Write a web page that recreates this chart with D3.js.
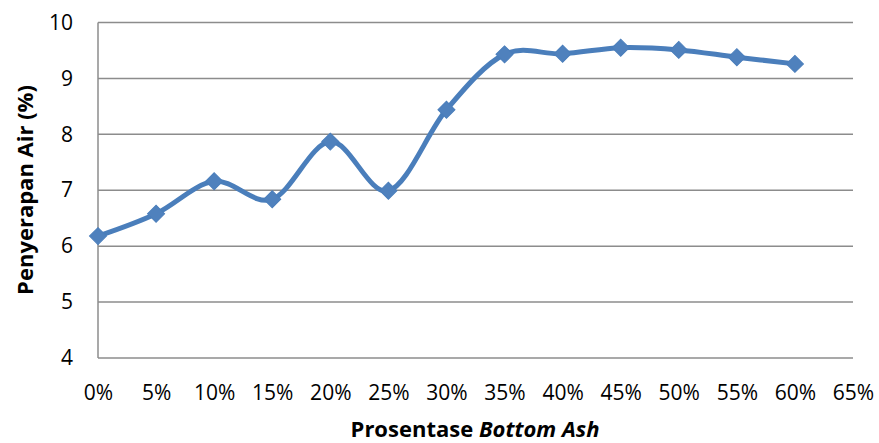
<!DOCTYPE html>
<html>
<head>
<meta charset="utf-8">
<script src="https://cdn.jsdelivr.net/npm/d3@7"></script>
<style>
  html, body { margin: 0; padding: 0; background: #fff; }
  svg { display: block; }
  text { font-family: "Open Sans", "Liberation Sans", sans-serif; fill: #000; }
</style>
</head>
<body>
<svg id="chart" width="879" height="443"></svg>
<script>
// Bottom ash share (fraction) and measured water absorption (%)
const bottomAsh = [0, 0.05, 0.10, 0.15, 0.20, 0.25, 0.30, 0.35, 0.40, 0.45, 0.50, 0.55, 0.60];
const absorption = [6.18, 6.58, 7.16, 6.84, 7.87, 6.99, 8.44, 9.43, 9.44, 9.55, 9.51, 9.38, 9.26];
const xTicks = [0, 0.05, 0.10, 0.15, 0.20, 0.25, 0.30, 0.35, 0.40, 0.45, 0.50, 0.55, 0.60, 0.65];
const yTicks = [4, 5, 6, 7, 8, 9, 10];

const svg = d3.select("#chart");
const plotLeft = 98, plotRight = 853, plotTop = 22.5, plotBottom = 358;
const font = "'Open Sans', 'Liberation Sans', sans-serif";

const x = d3.scaleLinear().domain([0, 0.65]).range([plotLeft, plotRight]);
const y = d3.scaleLinear().domain([4, 10]).range([plotBottom, plotTop]);

// horizontal gridlines
svg.append("g").selectAll("line").data(yTicks).join("line")
  .attr("x1", plotLeft).attr("x2", plotRight)
  .attr("y1", d => y(d)).attr("y2", d => y(d))
  .attr("stroke", "#8c8c8c").attr("stroke-width", 1.5);

// vertical axis line
svg.append("line")
  .attr("x1", plotLeft).attr("x2", plotLeft).attr("y1", plotTop).attr("y2", plotBottom)
  .attr("stroke", "#8c8c8c").attr("stroke-width", 1.5);

// y axis labels
const yAxis = d3.axisLeft(y).tickValues(yTicks).tickSize(0).tickPadding(25).tickFormat(d3.format("d"));
svg.append("g").attr("transform", `translate(${plotLeft},0)`).call(yAxis)
  .call(g => g.select(".domain").remove())
  .selectAll("text").style("font-size", "21px").style("font-family", font).attr("fill", "#000");

// x axis labels
const xAxis = d3.axisBottom(x).tickValues(xTicks).tickSize(0).tickPadding(27).tickFormat(d3.format(".0%"));
svg.append("g").attr("transform", `translate(0,${plotBottom})`).call(xAxis)
  .call(g => g.select(".domain").remove())
  .selectAll("text").style("font-size", "21px").style("font-family", font).attr("fill", "#000");

// smoothed series line
const line = d3.line()
  .x((d, i) => x(bottomAsh[i]))
  .y(d => y(d))
  .curve(d3.curveCardinal.tension(0));

svg.append("path")
  .datum(absorption)
  .attr("d", line)
  .attr("fill", "none")
  .attr("stroke", "#4a7ebb")
  .attr("stroke-width", 5)
  .attr("stroke-linejoin", "round");

// diamond markers
svg.append("g").selectAll("path").data(absorption).join("path")
  .attr("transform", (d, i) => `translate(${x(bottomAsh[i])},${y(d)}) rotate(45)`)
  .attr("d", d3.symbol().type(d3.symbolSquare).size(145))
  .attr("fill", "#4f81bd")
  .attr("stroke", "#4a7ebb")
  .attr("stroke-width", 1);

// axis titles
const xt = svg.append("text")
  .attr("x", 475).attr("y", 437)
  .attr("text-anchor", "middle")
  .style("font-size", "22px").style("font-weight", "bold");
xt.append("tspan").text("Prosentase ");
xt.append("tspan").style("font-style", "italic").text("Bottom Ash");

svg.append("text")
  .attr("transform", "translate(33,190) rotate(-90)")
  .attr("text-anchor", "middle")
  .style("font-size", "22px").style("font-weight", "bold")
  .text("Penyerapan Air (%)");
</script>
</body>
</html>
